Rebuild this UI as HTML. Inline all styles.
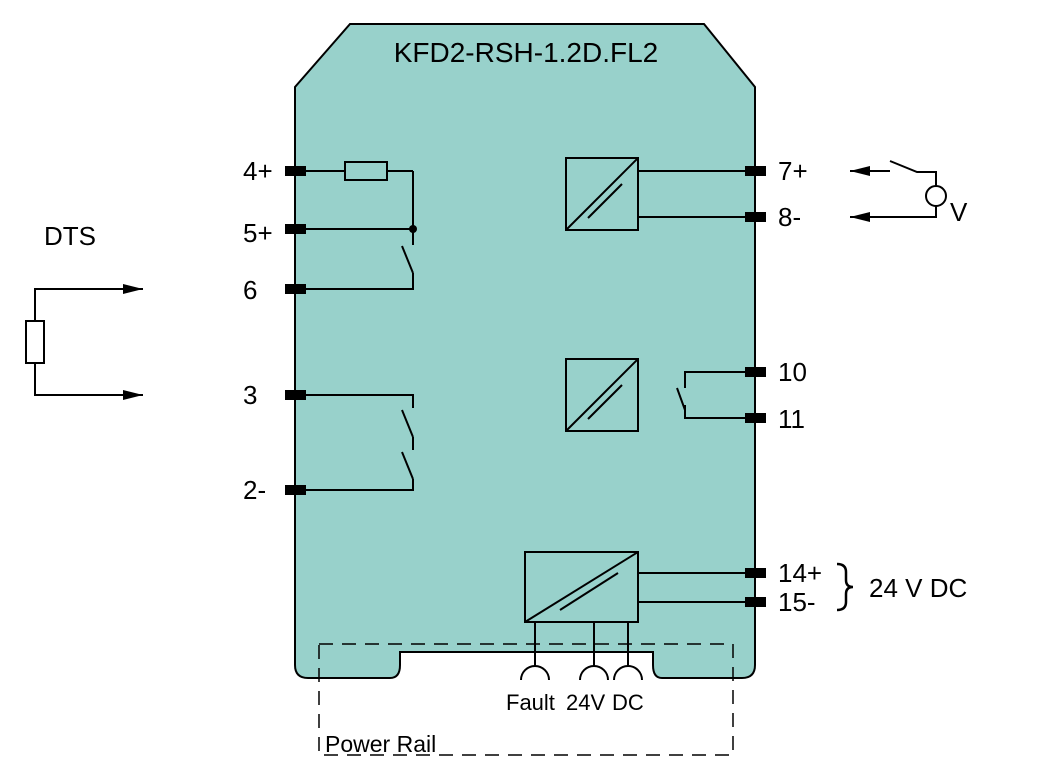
<!DOCTYPE html>
<html><head><meta charset="utf-8"><style>
html,body{margin:0;padding:0;background:#fff;}
svg{display:block;font-family:"Liberation Sans",Arial,sans-serif;}
</style></head><body>
<svg width="1063" height="780" viewBox="0 0 1063 780" xmlns="http://www.w3.org/2000/svg">
<defs>
<marker id="ar" markerWidth="20" markerHeight="10" refX="20" refY="5" orient="auto" markerUnits="userSpaceOnUse"><path d="M0,0 L20,5 L0,10 Z" fill="#000"/></marker>
</defs>
<!-- body -->
<path d="M350,24 L704,24 L755,87 L755,665 Q755,678 742,678 L662,678 Q653,678 653,665 L653,652 L400,652 L400,665 Q400,678 390,678 L308,678 Q295,678 295,665 L295,87 Z" fill="#98d1cb" stroke="#000" stroke-width="2"/>
<text x="526" y="62" font-size="28" text-anchor="middle">KFD2-RSH-1.2D.FL2</text>

<g stroke="#000" stroke-width="2" fill="none">
<line x1="306" y1="171" x2="413" y2="171"/>
<rect x="345" y="162" width="42" height="18" fill="#98d1cb"/>
<line x1="413" y1="171" x2="413" y2="245"/>
<line x1="306" y1="229" x2="413" y2="229"/>
<line x1="402" y1="246" x2="413" y2="273"/>
<polyline points="413,273 413,289 306,289"/>
<polyline points="306,395 413,395 413,408"/>
<line x1="402" y1="410" x2="413" y2="437"/>
<line x1="413" y1="437" x2="413" y2="450"/>
<line x1="402" y1="452" x2="413" y2="479"/>
<polyline points="413,479 413,490 306,490"/>
<rect x="566" y="158" width="72" height="72"/>
<line x1="566" y1="230" x2="638" y2="158"/>
<line x1="588" y1="218" x2="622" y2="184"/>
<rect x="566" y="359" width="72" height="72"/>
<line x1="566" y1="431" x2="638" y2="359"/>
<line x1="588" y1="419" x2="622" y2="385"/>
<line x1="638" y1="171" x2="745" y2="171"/>
<line x1="638" y1="217" x2="745" y2="217"/>
<polyline points="745,372 685,372 685,388"/>
<line x1="677" y1="388" x2="685" y2="410"/>
<polyline points="685,405 685,418 745,418"/>
<rect x="525" y="552" width="113" height="70"/>
<line x1="525" y1="622" x2="638" y2="552"/>
<line x1="560" y1="610" x2="618" y2="573"/>
<line x1="638" y1="573" x2="745" y2="573"/>
<line x1="638" y1="602" x2="745" y2="602"/>
<line x1="535" y1="622" x2="535" y2="667"/>
<line x1="594" y1="622" x2="594" y2="667"/>
<line x1="628" y1="622" x2="628" y2="667"/>
<path d="M521,680 A14,14 0 0 1 549,680"/>
<path d="M580,680 A14,14 0 0 1 608,680"/>
<path d="M614,680 A14,14 0 0 1 642,680"/>
<rect x="319" y="644" width="414" height="111" stroke-width="1.5" stroke-dasharray="14,9"/>
<rect x="26" y="321" width="18" height="42"/>
<polyline points="35,321 35,289 143,289" marker-end="url(#ar)"/>
<polyline points="35,363 35,395 143,395" marker-end="url(#ar)"/>
<line x1="890" y1="171" x2="850" y2="171" marker-end="url(#ar)"/>
<polyline points="890,161 917,172 936,172 936,186"/>
<circle cx="936" cy="196" r="10"/>
<polyline points="936,206 936,217 850,217" marker-end="url(#ar)"/>
<!-- brace -->
<path d="M837,564 Q846,564 846,572 L846,580 Q846,587 853,587 Q846,587 846,594 L846,602 Q846,610 837,610" stroke-width="2.5"/>
</g>
<circle cx="413" cy="229" r="4" fill="#000"/>

<g fill="#000">
<rect x="285" y="166" width="21" height="10"/>
<rect x="285" y="224" width="21" height="10"/>
<rect x="285" y="284" width="21" height="10"/>
<rect x="285" y="390" width="21" height="10"/>
<rect x="285" y="485" width="21" height="10"/>
<rect x="745" y="166" width="21" height="10"/>
<rect x="745" y="212" width="21" height="10"/>
<rect x="745" y="367" width="21" height="10"/>
<rect x="745" y="413" width="21" height="10"/>
<rect x="745" y="568" width="21" height="10"/>
<rect x="745" y="597" width="21" height="10"/>
</g>

<g font-size="26" fill="#000">
<text x="243" y="180">4+</text>
<text x="243" y="242">5+</text>
<text x="243" y="299">6</text>
<text x="243" y="404">3</text>
<text x="243" y="499">2-</text>
<text x="44" y="245">DTS</text>
<text x="778" y="180">7+</text>
<text x="778" y="226">8-</text>
<text x="778" y="381">10</text>
<text x="778" y="428">11</text>
<text x="778" y="582">14+</text>
<text x="778" y="611">15-</text>
<text x="950" y="221">V</text>
<text x="869" y="597">24 V DC</text>
<text x="506" y="710" font-size="22">Fault</text>
<text x="566" y="710" font-size="22">24V</text>
<text x="612" y="710" font-size="22">DC</text>
<text x="325" y="752" font-size="23">Power Rail</text>
</g>
</svg>
</body></html>
